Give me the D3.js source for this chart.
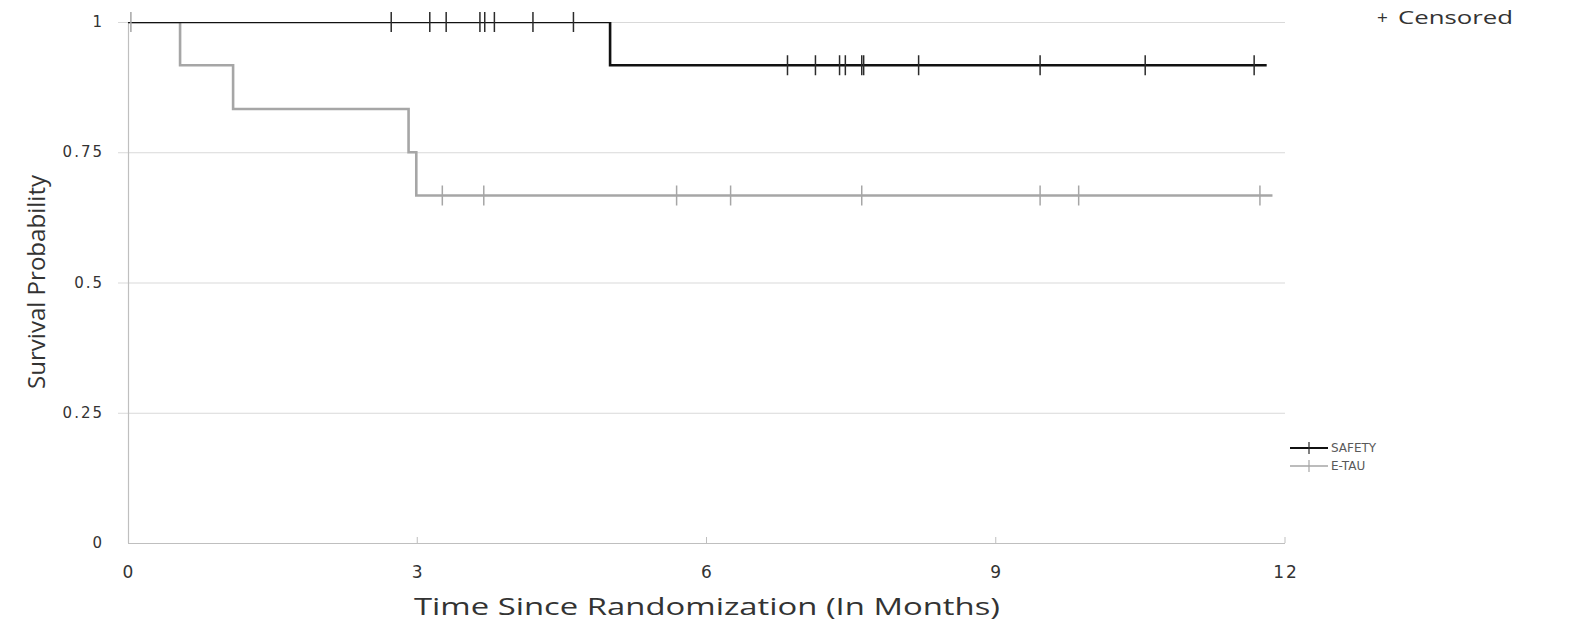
<!DOCTYPE html>
<html lang="en">
<head>
<meta charset="UTF-8">
<title>Survival</title>
<script src="https://cdn.jsdelivr.net/npm/d3@7"></script>
<style>
  body { margin: 0; background: #fff; }
  svg text { font-family: "DejaVu Sans", Verdana, sans-serif; }
</style>
</head>
<body>
<svg id="chart" width="1572" height="623"></svg>
<script>
// step curves
var safetyTimes = [0, 5.0, 11.81];
var safetySurv = [1, 0.917, 0.917];
var etauTimes = [0, 0.54, 1.09, 2.91, 2.99, 11.87];
var etauSurv = [1, 0.917, 0.833, 0.75, 0.667, 0.667];

// censored marks
var safetyCensT = [2.73, 3.13, 3.30, 3.65, 3.70, 3.80, 4.20, 4.62, 6.84, 7.13, 7.38, 7.44, 7.61, 7.63, 8.20, 9.46, 10.55, 11.68];
var safetyCensS = [1, 1, 1, 1, 1, 1, 1, 1, 0.917, 0.917, 0.917, 0.917, 0.917, 0.917, 0.917, 0.917, 0.917, 0.917];
var etauCensT = [0.03, 3.26, 3.69, 5.69, 6.25, 7.61, 9.46, 9.86, 11.74];
var etauCensS = [1, 0.667, 0.667, 0.667, 0.667, 0.667, 0.667, 0.667, 0.667];

var xTicks = [0, 3, 6, 9, 12];
var yTicks = [0, 0.25, 0.5, 0.75, 1];
var yTickLabels = ["0", "0.25", "0.5", "0.75", "1"];
var seriesNames = ["SAFETY", "E-TAU"];
var seriesColors = ["#111111", "#a6a6a6"];
var censColors = ["#2b2b2b", "#a6a6a6"];

var svg = d3.select("#chart");
var x = d3.scaleLinear().domain([0, 12]).range([128, 1285]);
var y = d3.scaleLinear().domain([0, 1]).range([543, 22]);

// gridlines
svg.append("g").selectAll("line").data(yTicks.slice(1)).enter().append("line")
  .attr("x1", x(0) - 10).attr("x2", x(12))
  .attr("y1", d => y(d) + 0.5).attr("y2", d => y(d) + 0.5)
  .attr("stroke", "#d9d9d9").attr("stroke-width", 1);

// axes lines
svg.append("line").attr("x1", x(0) + 0.5).attr("x2", x(0) + 0.5)
  .attr("y1", y(1)).attr("y2", y(0))
  .attr("stroke", "#bfbfbf").attr("stroke-width", 1.2);
svg.append("line").attr("x1", x(0)).attr("x2", x(12))
  .attr("y1", y(0) + 0.5).attr("y2", y(0) + 0.5)
  .attr("stroke", "#bfbfbf").attr("stroke-width", 1.2);
svg.append("g").selectAll("line").data(xTicks.slice(1)).enter().append("line")
  .attr("x1", d => x(d)).attr("x2", d => x(d))
  .attr("y1", y(0) - 6).attr("y2", y(0))
  .attr("stroke", "#bfbfbf").attr("stroke-width", 1);

// tick labels
svg.append("g").selectAll("text").data(yTicks).enter().append("text")
  .attr("x", 104).attr("y", d => y(d) + 5)
  .attr("text-anchor", "end").attr("font-size", 15).attr("fill", "#333")
  .attr("letter-spacing", 2)
  .text((d, i) => yTickLabels[i]);
svg.append("g").selectAll("text").data(xTicks).enter().append("text")
  .attr("x", d => x(d) + 1).attr("y", 578)
  .attr("text-anchor", "middle").attr("font-size", 17).attr("fill", "#333")
  .attr("letter-spacing", 2)
  .text(d => d);

// axis titles
svg.append("text").attr("x", 707).attr("y", 615)
  .attr("text-anchor", "middle").attr("font-size", 23).attr("fill", "#333")
  .style("font-family", "'Open Sans', sans-serif")
  .attr("textLength", 586).attr("lengthAdjust", "spacingAndGlyphs")
  .text("Time Since Randomization (In Months)");
svg.append("text").attr("transform", "translate(45,282) rotate(-90)")
  .attr("text-anchor", "middle").attr("font-size", 23).attr("fill", "#333")
  .style("font-family", "'Liberation Sans Narrow', 'Open Sans', sans-serif")
  .attr("textLength", 214).attr("lengthAdjust", "spacingAndGlyphs")
  .text("Survival Probability");

// clip lines to plot area
svg.append("clipPath").attr("id", "plot")
  .append("rect").attr("x", x(0)).attr("y", y(1)).attr("width", x(12) - x(0) + 20).attr("height", y(0) - y(1));

var line = d3.line().x(d => x(d[0])).y(d => y(d[1])).curve(d3.curveStepAfter);
var series = [
  {times: etauTimes, surv: etauSurv, cT: etauCensT, cS: etauCensS, color: seriesColors[1], cc: censColors[1]},
  {times: safetyTimes, surv: safetySurv, cT: safetyCensT, cS: safetyCensS, color: seriesColors[0], cc: censColors[0]}
];
series.forEach(s => {
  svg.append("path")
    .attr("d", line(d3.zip(s.times, s.surv)))
    .attr("fill", "none").attr("stroke", s.color).attr("stroke-width", 2.6)
    .attr("clip-path", "url(#plot)");
});
series.forEach(s => {
  svg.append("g").selectAll("line").data(d3.zip(s.cT, s.cS)).enter().append("line")
    .attr("x1", d => x(d[0])).attr("x2", d => x(d[0]))
    .attr("y1", d => y(d[1]) - 10).attr("y2", d => y(d[1]) + 10)
    .attr("stroke", s.cc).attr("stroke-width", 1.5);
});

// legend
svg.append("text").attr("x", 1377).attr("y", 24)
  .attr("font-size", 19).attr("fill", "#333")
  .style("font-family", "'Open Sans', sans-serif")
  .text("+");
svg.append("text").attr("x", 1398).attr("y", 24)
  .attr("font-size", 19).attr("fill", "#333")
  .style("font-family", "'Open Sans', sans-serif")
  .attr("textLength", 115).attr("lengthAdjust", "spacingAndGlyphs")
  .text("Censored");
var leg = svg.append("g").selectAll("g").data(seriesNames).enter().append("g")
  .attr("transform", (d, i) => "translate(1290," + (448 + i * 18) + ")");
leg.append("line").attr("x1", 0).attr("x2", 38).attr("y1", 0).attr("y2", 0)
  .attr("stroke", (d, i) => seriesColors[i]).attr("stroke-width", (d, i) => i == 0 ? 2 : 1.5);
leg.append("line").attr("x1", 19).attr("x2", 19).attr("y1", -6).attr("y2", 6)
  .attr("stroke", (d, i) => censColors[i]).attr("stroke-width", 1.2);
leg.append("text").attr("x", 41).attr("y", 4)
  .attr("font-size", 12).attr("fill", "#595959")
  .text(d => d);
</script>
</body>
</html>
